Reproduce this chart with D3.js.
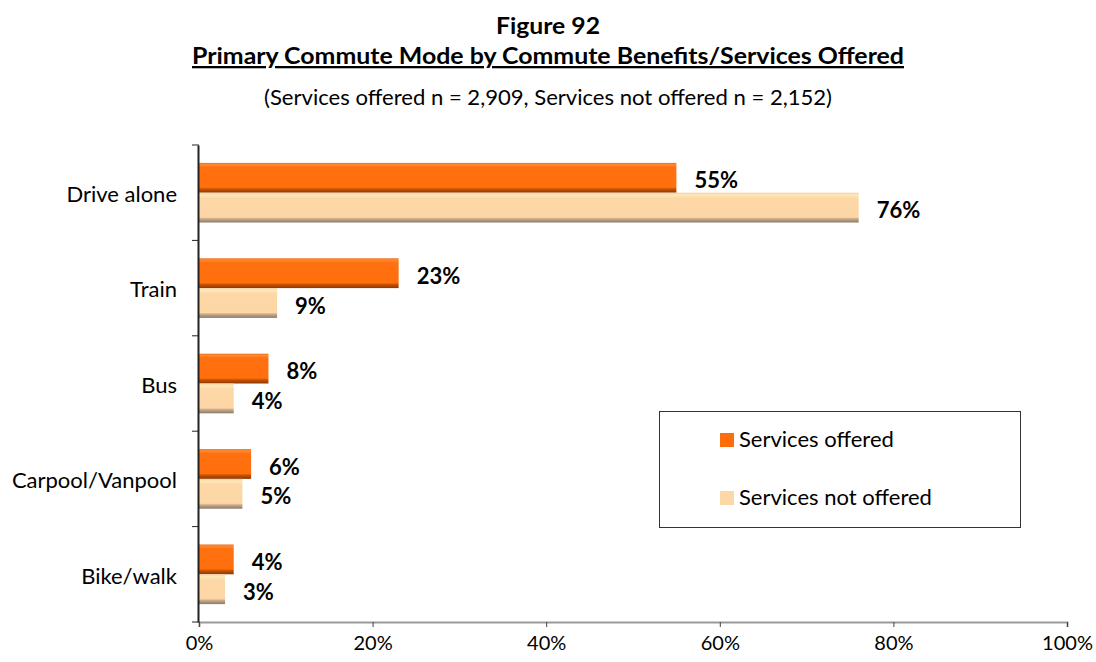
<!DOCTYPE html>
<html><head><meta charset="utf-8">
<script src="https://cdn.jsdelivr.net/npm/d3@7"></script>
<style>body{margin:0;background:#fff;} text{font-family:Lato, "Open Sans", sans-serif;}</style>
</head><body>
<svg id="c" width="1096" height="662"></svg>
<script>
const categories = ["Drive alone","Train","Bus","Carpool/Vanpool","Bike/walk"];
const seriesNames = ["Services offered","Services not offered"];
const offered = [55,23,8,6,4];
const notOffered = [76,9,4,5,3];
const xTicks = [0,20,40,60,80,100];

const svg = d3.select("#c");
const mLeft = 199, mRight = 1067, mTop = 145, mBottom = 622;
const x = d3.scaleLinear().domain([0,100]).range([mLeft,mRight]);
const y = d3.scaleBand().domain(categories).range([mTop,mBottom]).paddingInner(0).paddingOuter(0);
const inner = d3.scaleBand().domain(seriesNames).range([0,y.bandwidth()]).paddingOuter(0.6).paddingInner(0.0);

const defs = svg.append("defs");
function grad(id, stops){
  const g = defs.append("linearGradient").attr("id",id).attr("x1",0).attr("y1",0).attr("x2",0).attr("y2",1);
  stops.forEach(s=>g.append("stop").attr("offset",s[0]).attr("stop-color",s[1]));
}
grad("g0",[[0,"#F0701A"],[0.06,"#FF8A30"],[0.15,"#FF7010"],[0.82,"#FF6F0C"],[0.88,"#C85000"],[1,"#8A3A08"]]);
grad("g1",[[0,"#F6D2A6"],[0.08,"#FFE8B8"],[0.18,"#FDD8A6"],[0.82,"#FCD6A4"],[0.88,"#C8A888"],[1,"#8A7A6A"]]);

// title
svg.append("text").attr("x",548).attr("y",34).attr("text-anchor","middle")
  .attr("font-weight","bold").attr("font-size",23).attr("textLength",104).attr("lengthAdjust","spacingAndGlyphs").text("Figure 92");
svg.append("text").attr("x",548).attr("y",64).attr("text-anchor","middle")
  .attr("font-weight","bold").attr("font-size",23).attr("text-decoration","underline")
  .attr("textLength",712).attr("lengthAdjust","spacingAndGlyphs")
  .text("Primary Commute Mode by Commute Benefits/Services Offered");
svg.append("text").attr("x",548).attr("y",105).attr("text-anchor","middle")
  .attr("font-size",21).attr("textLength",568).attr("lengthAdjust","spacingAndGlyphs")
  .text("(Services offered n = 2,909, Services not offered n = 2,152)");

// bars
const data = [];
categories.forEach((c,i)=>{
  data.push({c, s:seriesNames[0], v:offered[i], k:0});
  data.push({c, s:seriesNames[1], v:notOffered[i], k:1});
});
svg.append("g").selectAll("rect").data(data).join("rect")
  .attr("x",x(0)).attr("y",d=>y(d.c)+inner(d.s))
  .attr("width",d=>x(d.v)-x(0)).attr("height",inner.bandwidth())
  .attr("fill",d=>`url(#g${d.k})`);
svg.append("g").selectAll("text").data(data).join("text")
  .attr("x",d=>x(d.v)+18).attr("y",d=>y(d.c)+inner(d.s)+inner.bandwidth()/2+5)
  .attr("dominant-baseline","middle")
  .attr("font-weight","bold").attr("font-size",22).text(d=>d.v+"%");

// x axis
const xa = svg.append("g").attr("transform",`translate(0,${mBottom})`)
  .call(d3.axisBottom(x).tickValues(xTicks).tickFormat(d=>d+"%").tickSize(5).tickPadding(9));
xa.select(".domain").attr("stroke","#999").attr("stroke-width",2);
xa.selectAll(".tick line").attr("stroke","#444");
xa.selectAll(".tick text").attr("font-size",20).attr("fill","#000").attr("font-family","Lato, sans-serif");

// y axis
const ya = svg.append("g").attr("transform",`translate(${mLeft-1},0)`)
  .call(d3.axisLeft(y).tickSize(0).tickPadding(21));
ya.select(".domain").attr("stroke","#222").attr("stroke-width",2);
ya.selectAll(".tick text").attr("font-size",22).attr("fill","#000").attr("dy","0.42em").attr("font-family","Lato, sans-serif");
const bounds = categories.map(c=>y(c)).concat([mBottom]);
svg.append("g").selectAll("line").data(bounds).join("line")
  .attr("x1",mLeft-7).attr("x2",mLeft).attr("y1",d=>d).attr("y2",d=>d)
  .attr("stroke","#222").attr("stroke-width",1);

// legend
const lg = svg.append("g");
lg.append("rect").attr("x",659.5).attr("y",411.5).attr("width",361).attr("height",116)
  .attr("fill","#fff").attr("stroke","#333").attr("stroke-width",1);
seriesNames.forEach((s,i)=>{
  const yy = 440 + i*58;
  lg.append("rect").attr("x",720).attr("y",yy-7).attr("width",14).attr("height",14)
    .attr("fill", i===0 ? "#FF6D0A" : "#FDD7A5");
  lg.append("text").attr("x",739).attr("y",yy+1).attr("dominant-baseline","middle")
    .attr("font-size",22).text(s);
});
</script>
</body></html>
